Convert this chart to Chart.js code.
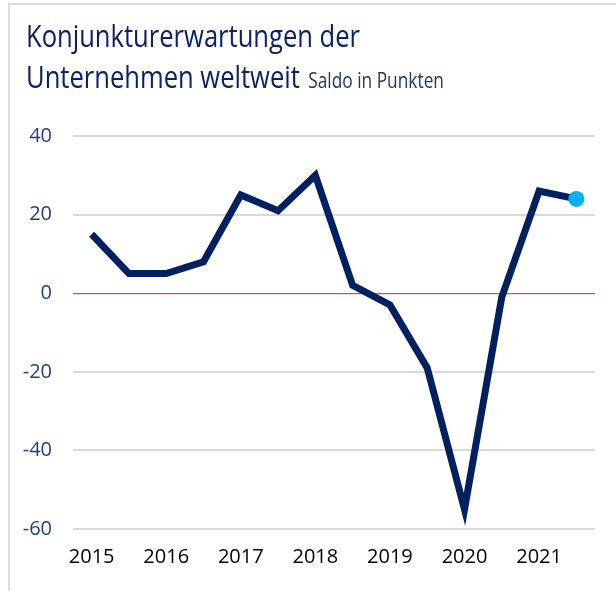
<!DOCTYPE html>
<html><head><meta charset="utf-8">
<script src="https://cdn.jsdelivr.net/npm/chart.js@4.4.1/dist/chart.umd.min.js"></script>
<style>
html,body{margin:0;padding:0;background:#fff;width:616px;height:591px;overflow:hidden;}
#frame{position:absolute;left:8px;top:3px;width:620px;height:600px;border-left:2px solid #dcdcdc;border-top:2px solid #dcdcdc;}
#title{position:absolute;left:26px;top:15px;font-family:"Open Sans",Lato,sans-serif;font-weight:500;color:#0b2265;font-size:31px;line-height:41px;white-space:nowrap;z-index:2;transform-origin:0 0;}
#title span{display:inline-block;}
#title .sub{font-size:21px;font-weight:400;color:#1f3864;margin-left:2px;}
#wrap{position:absolute;left:0;top:0;width:616px;height:591px;}
</style></head>
<body>
<div id="frame"></div>
<div id="title"><span id="l1">Konjunkturerwartungen der</span><br><span id="l2">Unternehmen weltweit</span> <span class="sub" id="sub">Saldo in Punkten</span></div>
<div id="wrap"><canvas id="c" width="616" height="591"></canvas></div>
<script>
const categories = ['2015 H1','2015 H2','2016 H1','2016 H2','2017 H1','2017 H2','2018 H1','2018 H2','2019 H1','2019 H2','2020 H1','2020 H2','2021 H1','2021 H2'];
const yearLabels = ['2015','','2016','','2017','','2018','','2019','','2020','','2021',''];
const saldo = [15, 5, 5, 8, 25, 21, 30, 2, -3, -19, -55, -1, 26, 24];
const yTicks = [40, 20, 0, -20, -40, -60];

// fit title width to the reference line length (condensed look)
(function(){
  const l1 = document.getElementById('l1');
  const w = l1.getBoundingClientRect().width;
  const s = 334 / w;
  document.getElementById('title').style.transform = 'scaleX(' + s.toFixed(3) + ')';
})();

const lastIdx = saldo.length - 1;
new Chart(document.getElementById('c'), {
  type: 'line',
  data: {
    labels: categories,
    datasets: [{
      data: saldo,
      borderColor: '#002060',
      borderWidth: 7,
      borderJoinStyle: 'miter',
      tension: 0,
      pointRadius: saldo.map((v, i) => i === lastIdx ? 8 : 0),
      pointBackgroundColor: '#00b0f0',
      pointBorderWidth: 0,
      pointHoverRadius: 0
    }]
  },
  options: {
    responsive: false,
    animation: false,
    events: [],
    layout: { padding: { top: 136, right: 21, left: 0, bottom: 0 } },
    plugins: { legend: { display: false }, tooltip: { enabled: false } },
    scales: {
      x: {
        type: 'category',
        offset: true,
        grid: { display: false },
        border: { display: false },
        ticks: {
          autoSkip: false, maxRotation: 0, padding: 8,
          color: '#000', font: { family: 'Open Sans', size: 20 },
          callback: (v, i) => yearLabels[i]
        },
        afterFit: s => { s.height = 62; }
      },
      y: {
        min: -60, max: 40,
        afterBuildTicks: s => { s.ticks = yTicks.map(v => ({ value: v })); },
        grid: {
          drawTicks: false,
          color: c => c.tick && c.tick.value === 0 ? '#c9585a' : '#d9d9d9',
          lineWidth: c => c.tick && c.tick.value === 0 ? 1.2 : 2
        },
        border: { display: false },
        ticks: { padding: 21, color: '#203f7a', font: { family: 'Open Sans', size: 20 } },
        afterFit: s => { s.width = 73; }
      }
    }
  }
});
</script>
</body></html>
